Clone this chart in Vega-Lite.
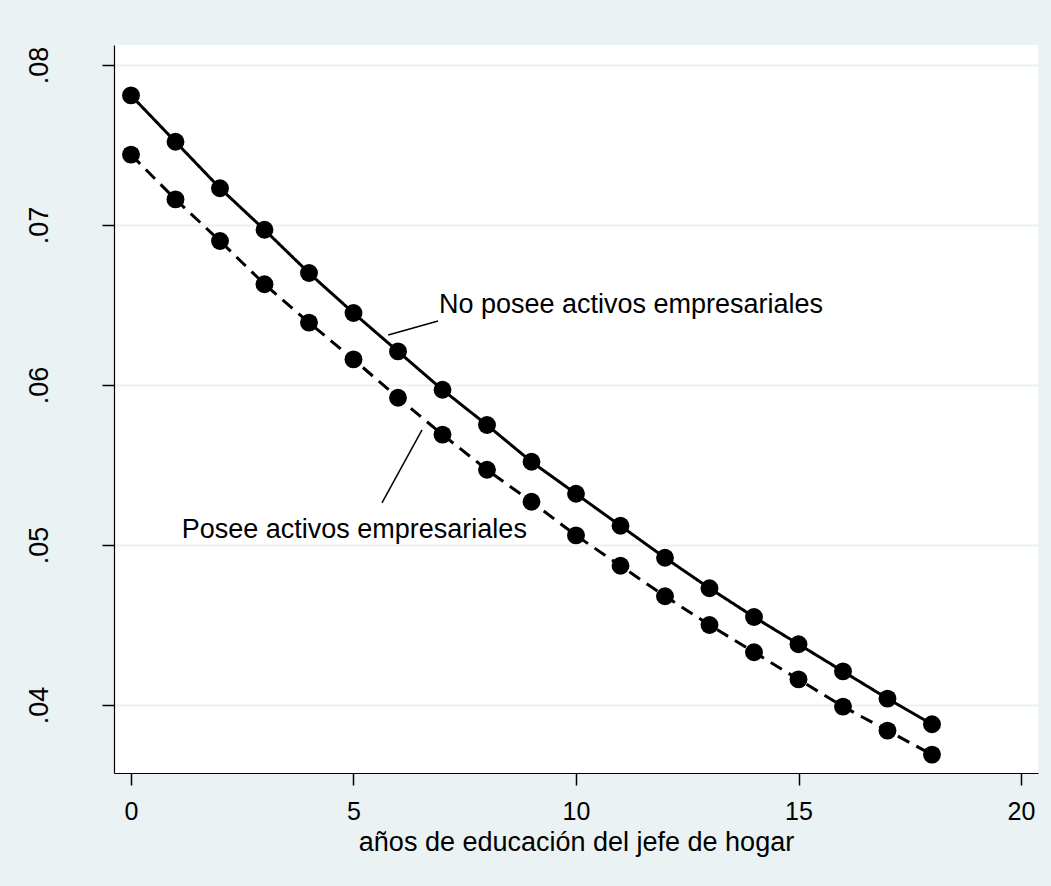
{
  "$schema": "https://vega.github.io/schema/vega-lite/v6.json",
  "autosize": {"type": "none"},
  "width": 924,
  "height": 728,
  "padding": {"left": 114, "top": 45, "right": 13, "bottom": 113},
  "background": "#EAF2F3",
  "config": {
    "view": {"stroke": null, "fill": "white"},
    "axis": {"domainColor": "black", "domainWidth": 1.2, "tickColor": "black", "tickWidth": 1.5, "tickSize": 12, "labelColor": "black", "titleColor": "black"}
  },
  "datasets": {
    "series": [
      {"educ": 0, "valor": 0.0781, "grupo": "No posee"},
      {"educ": 1, "valor": 0.0752, "grupo": "No posee"},
      {"educ": 2, "valor": 0.0723, "grupo": "No posee"},
      {"educ": 3, "valor": 0.0697, "grupo": "No posee"},
      {"educ": 4, "valor": 0.0670, "grupo": "No posee"},
      {"educ": 5, "valor": 0.0645, "grupo": "No posee"},
      {"educ": 6, "valor": 0.0621, "grupo": "No posee"},
      {"educ": 7, "valor": 0.0597, "grupo": "No posee"},
      {"educ": 8, "valor": 0.0575, "grupo": "No posee"},
      {"educ": 9, "valor": 0.0552, "grupo": "No posee"},
      {"educ": 10, "valor": 0.0532, "grupo": "No posee"},
      {"educ": 11, "valor": 0.0512, "grupo": "No posee"},
      {"educ": 12, "valor": 0.0492, "grupo": "No posee"},
      {"educ": 13, "valor": 0.0473, "grupo": "No posee"},
      {"educ": 14, "valor": 0.0455, "grupo": "No posee"},
      {"educ": 15, "valor": 0.0438, "grupo": "No posee"},
      {"educ": 16, "valor": 0.0421, "grupo": "No posee"},
      {"educ": 17, "valor": 0.0404, "grupo": "No posee"},
      {"educ": 18, "valor": 0.0388, "grupo": "No posee"},
      {"educ": 0, "valor": 0.0744, "grupo": "Posee"},
      {"educ": 1, "valor": 0.0716, "grupo": "Posee"},
      {"educ": 2, "valor": 0.0690, "grupo": "Posee"},
      {"educ": 3, "valor": 0.0663, "grupo": "Posee"},
      {"educ": 4, "valor": 0.0639, "grupo": "Posee"},
      {"educ": 5, "valor": 0.0616, "grupo": "Posee"},
      {"educ": 6, "valor": 0.0592, "grupo": "Posee"},
      {"educ": 7, "valor": 0.0569, "grupo": "Posee"},
      {"educ": 8, "valor": 0.0547, "grupo": "Posee"},
      {"educ": 9, "valor": 0.0527, "grupo": "Posee"},
      {"educ": 10, "valor": 0.0506, "grupo": "Posee"},
      {"educ": 11, "valor": 0.0487, "grupo": "Posee"},
      {"educ": 12, "valor": 0.0468, "grupo": "Posee"},
      {"educ": 13, "valor": 0.0450, "grupo": "Posee"},
      {"educ": 14, "valor": 0.0433, "grupo": "Posee"},
      {"educ": 15, "valor": 0.0416, "grupo": "Posee"},
      {"educ": 16, "valor": 0.0399, "grupo": "Posee"},
      {"educ": 17, "valor": 0.0384, "grupo": "Posee"},
      {"educ": 18, "valor": 0.0369, "grupo": "Posee"}
    ],
    "pointers": [
      {"x1": 6.90, "y1": 0.0640, "x2": 5.78, "y2": 0.06313},
      {"x1": 6.54, "y1": 0.05719, "x2": 5.64, "y2": 0.05263}
    ],
    "labels": [
      {"x": 6.92, "y": 0.0645, "texto": "No posee activos empresariales"},
      {"x": 1.14, "y": 0.05044, "texto": "Posee activos empresariales"}
    ]
  },
  "layer": [
    {
      "data": {"name": "series"},
      "mark": {"type": "line", "color": "black", "strokeWidth": 3},
      "encoding": {
        "x": {
          "field": "educ", "type": "quantitative",
          "scale": {"domain": [-0.382, 20.382], "nice": false, "zero": false},
          "axis": {
            "values": [0, 5, 10, 15, 20], "grid": false,
            "title": "años de educación del jefe de hogar",
            "labelFont": "Liberation Sans", "labelFontSize": 25,
            "labelBaseline": "top", "labelPadding": 14, "labelFlush": false,
            "titleFont": "Liberation Sans", "titleFontSize": 27, "titleFontWeight": "normal",
            "titleBaseline": "alphabetic", "titleY": 77
          }
        },
        "y": {
          "field": "valor", "type": "quantitative",
          "scale": {"domain": [0.03575, 0.08125], "nice": false, "zero": false},
          "axis": {
            "values": [0.04, 0.05, 0.06, 0.07, 0.08],
            "labelExpr": "substring(format(datum.value, '.2f'), 1)",
            "grid": true, "gridColor": "#EAF2F3", "gridWidth": 2,
            "labelAngle": -90, "labelAlign": "center", "labelBaseline": "alphabetic",
            "labelPadding": 55, "labelFont": "Liberation Sans", "labelFontSize": 27,
            "title": null
          }
        },
        "strokeDash": {
          "field": "grupo", "type": "nominal",
          "scale": {"domain": ["No posee", "Posee"], "range": [[1, 0], [13, 8]]},
          "legend": null
        }
      }
    },
    {
      "data": {"name": "series"},
      "mark": {"type": "point", "shape": "circle", "filled": true, "color": "black", "opacity": 1, "size": 320},
      "encoding": {
        "x": {"field": "educ", "type": "quantitative"},
        "y": {"field": "valor", "type": "quantitative"}
      }
    },
    {
      "data": {"name": "pointers"},
      "mark": {"type": "rule", "color": "black", "strokeWidth": 1.5},
      "encoding": {
        "x": {"field": "x1", "type": "quantitative"},
        "y": {"field": "y1", "type": "quantitative"},
        "x2": {"field": "x2"},
        "y2": {"field": "y2"}
      }
    },
    {
      "data": {"name": "labels"},
      "mark": {"type": "text", "align": "left", "baseline": "alphabetic", "font": "Liberation Sans", "fontSize": 27, "color": "black"},
      "encoding": {
        "x": {"field": "x", "type": "quantitative"},
        "y": {"field": "y", "type": "quantitative"},
        "text": {"field": "texto"}
      }
    }
  ]
}
